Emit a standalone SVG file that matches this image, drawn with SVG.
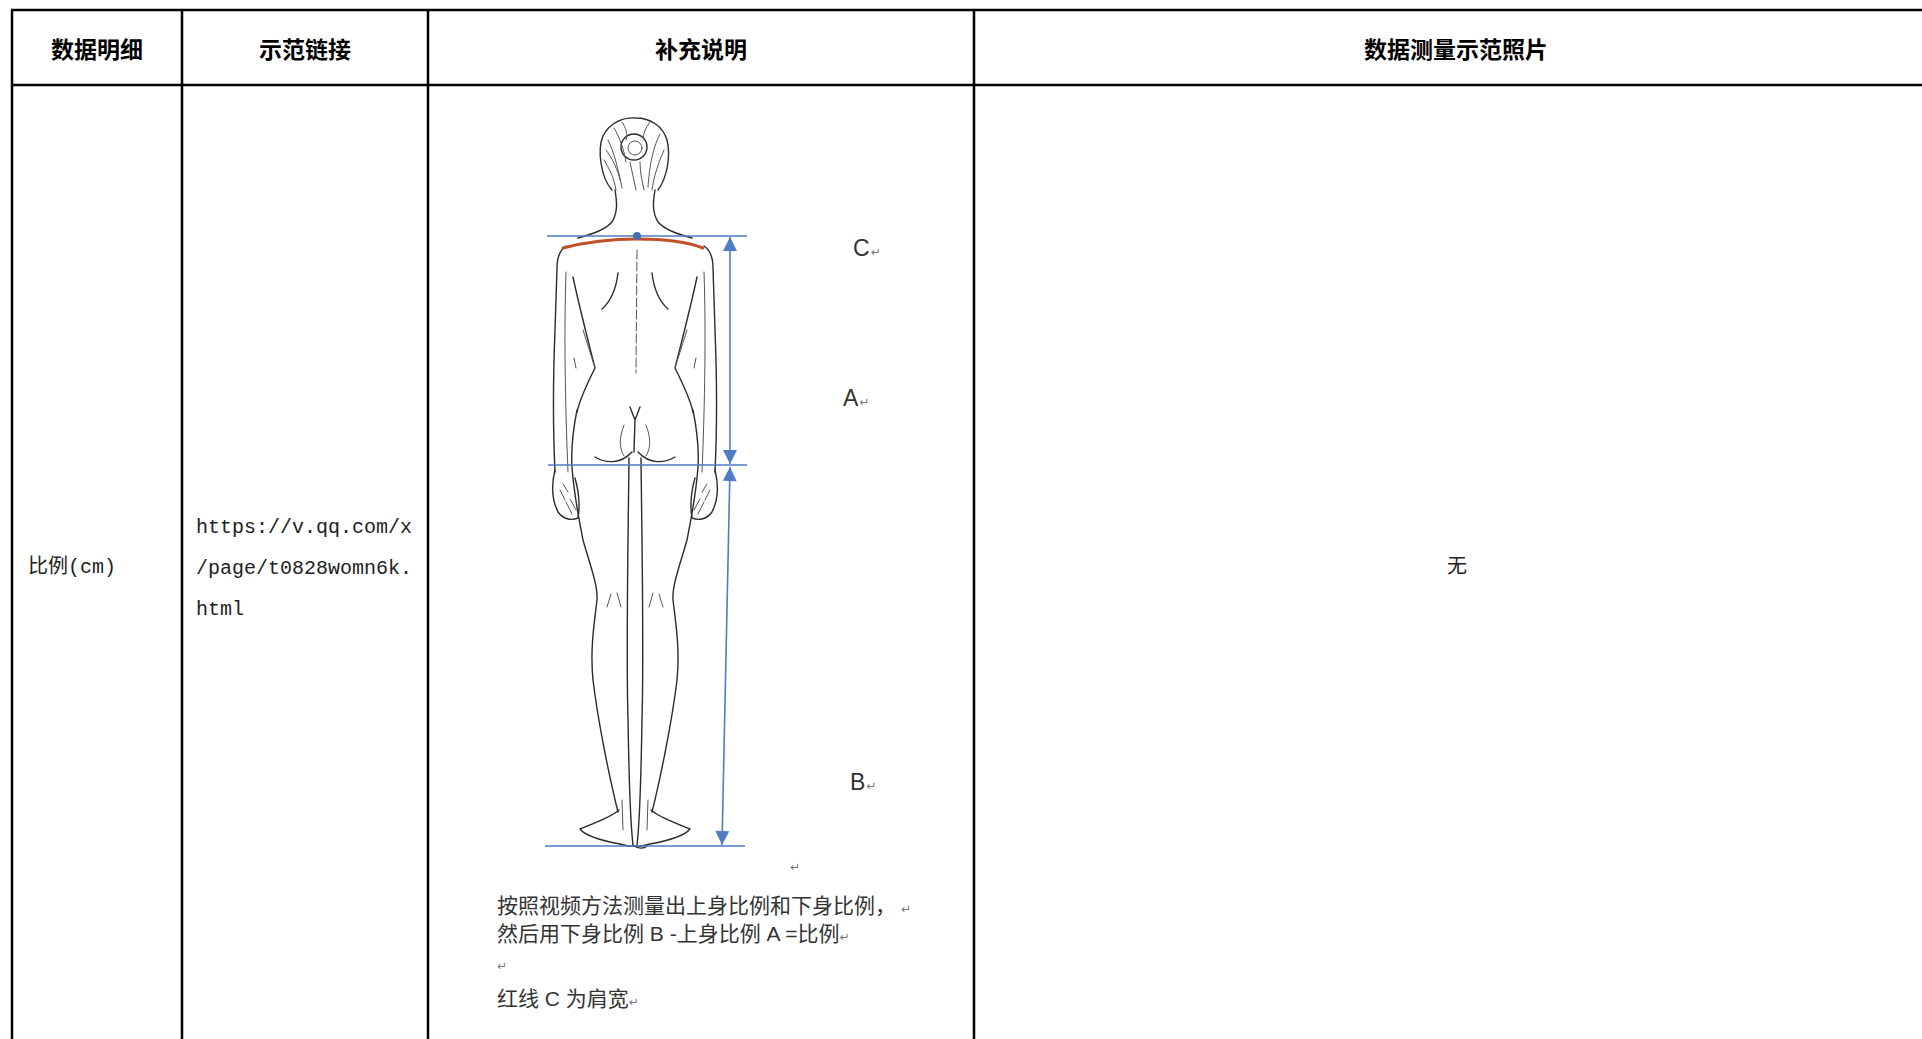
<svg xmlns="http://www.w3.org/2000/svg" width="1922" height="1039" viewBox="0 0 1922 1039">
<style>
.grid{stroke:#000;stroke-width:2.5;fill:none}
.hdr{font-family:"Noto Sans CJK SC","Liberation Sans",sans-serif;font-weight:bold;font-size:23px;fill:#000;text-anchor:middle}
.cell{font-family:"Liberation Mono","Noto Sans CJK SC",monospace;font-size:20px;fill:#222}
.pic{font-family:"Liberation Sans","Noto Sans CJK SC",sans-serif;font-size:21px;fill:#333}
.lbl{font-family:"Liberation Sans","DejaVu Sans",sans-serif;font-size:23px;fill:#333}
.ret{font-family:"DejaVu Sans",sans-serif;font-size:12px;fill:#777}
.ink{stroke:#2b2b2b;stroke-width:1.4;fill:none;stroke-linecap:round;stroke-linejoin:round}
.thin{stroke:#555;stroke-width:1;fill:none;stroke-linecap:round}
.meas{stroke:#4f7cc4;stroke-width:1.6;fill:none}
</style>
<defs>
<marker id="ah" viewBox="0 0 10 10" refX="10" refY="5" markerWidth="15" markerHeight="14" markerUnits="userSpaceOnUse" orient="auto-start-reverse">
<path d="M0,0 L10,5 L0,10 z" fill="#4f7cc4"/>
</marker>
<g id="half">
<path class="ink" d="M615,190 C617,202 618,212 612,222 C605,230 592,234 578,238"/>
<path class="ink" d="M566,246 C560,250 557,257 557,268 L555,330 C553,380 553,430 555,472"/>
<path class="thin" d="M566,272 C564,330 565,400 568,472"/>
<path class="ink" d="M555,470 C551,486 552,500 558,512 C563,519 571,521 578,518 C580,506 579,492 575,478"/>
<path class="thin" d="M560,490 L565,500 M563,484 L568,492 M566,502 L572,514 M570,499 L576,510"/>
<path class="ink" d="M573,277 C580,310 588,340 595,368 C588,382 580,398 577,412"/>
<path class="thin" d="M583,330 L595,368 M574,358 L576,368"/>
<path class="ink" d="M577,410 C573,430 571,450 572,467 C574,495 578,515 583,540 C590,565 598,585 597,600 C594,625 590,650 593,680 C598,722 610,780 618,812"/>
<path class="ink" d="M619,810 C610,818 594,823 580,829 C586,837 604,841 620,844 C627,846 632,847 636,846"/>
<path class="thin" d="M622,800 L623,830"/>
<path class="thin" d="M607,607 L611,594 M617,593 L621,607"/>
<path class="ink" d="M618,273 C616,290 610,302 602,309"/>
<path class="ink" d="M629,458 C628,550 626,650 628,720 C629,780 630,820 633,845"/>
<path class="ink" d="M595,457 C605,463 620,465 632,452"/>
<path class="thin" d="M624,425 C619,438 619,448 624,456"/>
</g>
</defs>

<rect x="0" y="0" width="1922" height="1039" fill="#fff"/>

<g id="grid">
<path class="grid" d="M11,10 H1922 M11,85 H1922 M12,10 V1039 M182,10 V1039 M428,10 V1039 M974,10 V1039"/>
</g>

<g id="hdr-detail"><text class="hdr" x="97" y="58">数据明细</text></g>
<g id="hdr-link"><text class="hdr" x="305" y="58">示范链接</text></g>
<g id="hdr-note"><text class="hdr" x="701" y="58">补充说明</text></g>
<g id="hdr-photo"><text class="hdr" x="1456" y="58">数据测量示范照片</text></g>

<g id="cell-detail"><text class="cell" x="28" y="573">比例(cm)</text></g>
<g id="cell-link">
<text class="cell" x="196" y="533">https://v.qq.com/x</text>
<text class="cell" x="196" y="574">/page/t0828womn6k.</text>
<text class="cell" x="196" y="615">html</text>
</g>
<g id="cell-photo"><text class="cell" x="1457" y="573" text-anchor="middle">无</text></g>

<g id="figure">
<path class="ink" d="M612,190 C601,178 597,150 603,136 C610,122 624,117 636,118 C650,118 663,126 667,140 C671,156 667,178 658,190"/>
<circle class="ink" cx="634" cy="147" r="13"/>
<circle class="thin" cx="635" cy="148" r="7"/>
<path class="thin" d="M608,140 C614,152 618,168 622,188 M614,128 C620,138 624,150 626,162 M660,134 C654,146 650,160 648,187 M664,150 C658,164 654,176 652,190 M604,160 C610,170 614,178 616,190 M630,162 C632,172 634,180 636,190 M640,162 C640,172 642,180 644,190 M622,122 C626,128 628,134 626,140 M650,122 C646,128 642,134 644,140 M606,150 C612,158 618,170 620,180"/>
<use href="#half"/>
<use href="#half" transform="translate(1270,0) scale(-1,1)"/>
<path class="thin" d="M637,250 L636,373" stroke-dasharray="9 3"/>
<path class="ink" d="M630,407 L635,420 L640,407 M635,420 L634,452"/>
<path class="ink" d="M633,845 C638,849 644,849 647,846"/>
</g>

<g id="connectors">
<path class="meas" d="M547,236 H747 M548,465 H747 M545,846 H745"/>
<path class="meas" d="M730,237 L730,464" marker-start="url(#ah)" marker-end="url(#ah)"/>
<path class="meas" d="M730,467 L722,845" marker-start="url(#ah)" marker-end="url(#ah)"/>
<path d="M563,248 C590,241 615,239 637,239 C660,239 685,241 703,248" stroke="#c0502a" stroke-width="3" fill="none" stroke-linecap="round"/>
<circle cx="637" cy="236" r="4" fill="#4a6fb0"/>
</g>

<g id="labels">
<text class="lbl" x="853" y="256">C<tspan class="ret" dx="1">↵</tspan></text>
<text class="lbl" x="843" y="406">A<tspan class="ret" dx="1">↵</tspan></text>
<text class="lbl" x="850" y="790">B<tspan class="ret" dx="1">↵</tspan></text>
</g>

<g id="caption">
<text class="ret" x="790" y="871">↵</text>
<text class="pic" x="497" y="913">按照视频方法测量出上身比例和下身比例，<tspan class="ret" x="901">↵</tspan></text>
<text class="pic" x="497" y="941">然后用下身比例 B -上身比例 A =比例<tspan class="ret">↵</tspan></text>
<text class="ret" x="497" y="970">↵</text>
<text class="pic" x="497" y="1006">红线 C 为肩宽<tspan class="ret">↵</tspan></text>
</g>
</svg>
